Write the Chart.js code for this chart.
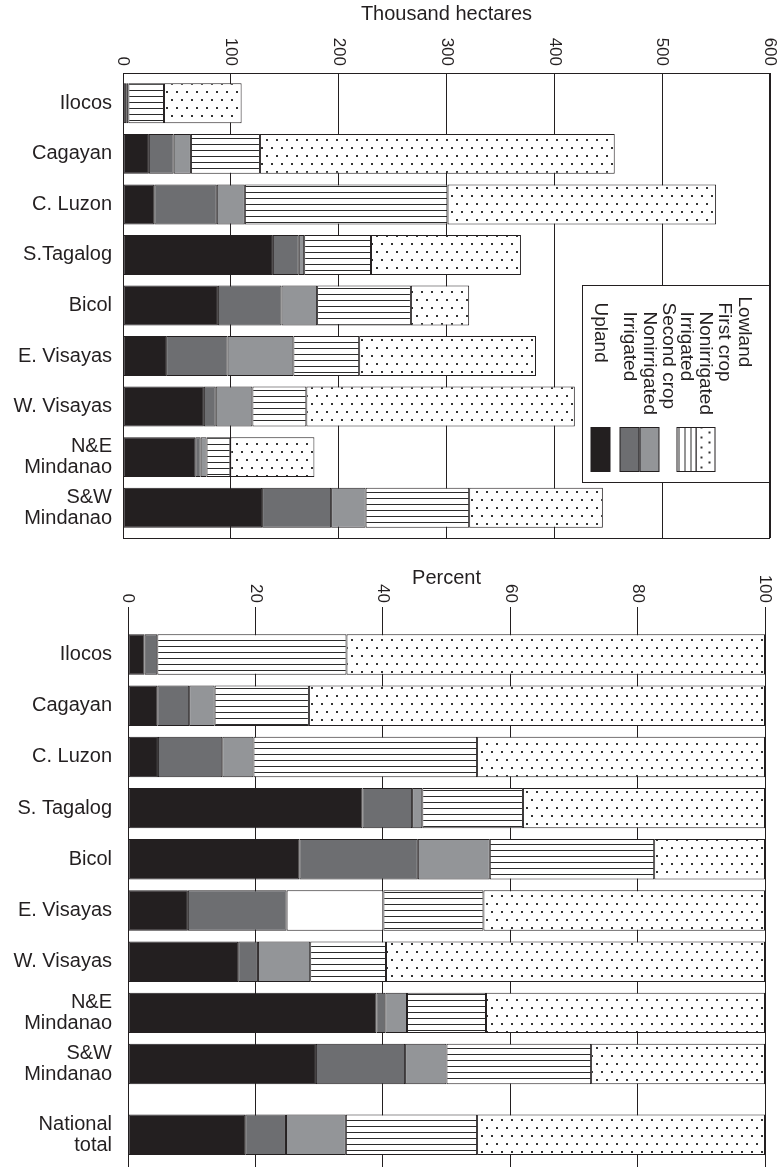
<!DOCTYPE html>
<html>
<head>
<meta charset="utf-8">
<script src="https://cdn.jsdelivr.net/npm/chart.js@4.4.0/dist/chart.umd.min.js"></script>
<style>
  html, body { margin: 0; padding: 0; background: #fff; }
  body { width: 778px; height: 1167px; position: relative; overflow: hidden; }
  .panel { position: absolute; left: 0; width: 778px; }
  #topPanel { top: 0; height: 548px; }
  #bottomPanel { top: 556px; height: 611px; }
</style>
</head>
<body>
<div class="panel" id="topPanel"><canvas id="areaChart"></canvas></div>
<div class="panel" id="bottomPanel"><canvas id="shareChart"></canvas></div>
<script>
// ---- data ----
const areaRegions = ['Ilocos', 'Cagayan', 'C. Luzon', 'S.Tagalog', 'Bicol', 'E. Visayas', 'W. Visayas', ['N&E', 'Mindanao'], ['S&W', 'Mindanao']];
const areaTicks = [0, 100, 200, 300, 400, 500, 600];
// thousand hectares
const areaUpland       = [3, 24, 29, 139, 88, 40, 75, 67, 129];
const areaSecondIrr    = [2, 23, 58, 24, 59, 57, 11, 5, 64];
const areaSecondNonirr = [0, 16, 26, 5, 33, 61, 34, 5.5, 32];
const areaFirstIrr     = [33, 64, 188, 62, 87, 61, 50, 22, 96];
const areaFirstNonirr  = [72, 329, 249, 139, 54, 164, 249, 78, 124];

const shareRegions = ['Ilocos', 'Cagayan', 'C. Luzon', 'S. Tagalog', 'Bicol', 'E. Visayas', 'W. Visayas', ['N&E', 'Mindanao'], ['S&W', 'Mindanao'], ['National', 'total']];
const shareTicks = [0, 20, 40, 60, 80, 100];
// percent
const shareUpland       = [2.6, 4.6, 4.7, 36.8, 26.9, 9.4, 17.3, 39.0, 29.5, 18.4];
const shareSecondIrr    = [2.0, 5.0, 10.1, 7.8, 18.6, 15.5, 3.1, 1.4, 14.0, 6.4];
const shareSecondNonirr = [0, 4.0, 4.9, 1.6, 11.3, 15.2, 8.2, 3.4, 6.5, 9.4];
const shareFirstIrr     = [29.7, 14.8, 35.1, 15.8, 25.8, 15.7, 11.9, 12.4, 22.7, 20.6];
const shareFirstNonirr  = [65.7, 71.6, 45.2, 38.0, 17.4, 44.2, 59.5, 43.8, 27.3, 45.2];

const legendLines = [
  { text: 'Lowland', level: 0 },
  { text: 'First crop', level: 1 },
  { text: 'Nonirrigated', level: 2, key: 'firstNonirr' },
  { text: 'Irrigated', level: 2, key: 'firstIrr' },
  { text: 'Second crop', level: 1 },
  { text: 'Nonirrigated', level: 2, key: 'secondNonirr' },
  { text: 'Irrigated', level: 2, key: 'secondIrr' },
  { text: 'Upland', level: 1, key: 'upland' },
];

// ---- styles ----
const FONT = '"Liberation Sans", Arial, Helvetica, sans-serif';
const INK = '#231f20';
Chart.defaults.font.family = FONT;
Chart.defaults.color = INK;

function makePattern(w, h, draw) {
  const c = document.createElement('canvas');
  c.width = w; c.height = h;
  const g = c.getContext('2d');
  g.fillStyle = '#fff';
  g.fillRect(0, 0, w, h);
  draw(g);
  return g.createPattern(c, 'repeat');
}
const stripes = makePattern(8, 6, g => { g.fillStyle = '#2b2b2b'; g.fillRect(0, 0, 8, 1); });
const dots = makePattern(10, 16, g => {
  g.fillStyle = '#333';
  g.fillRect(1, 3, 2, 2);
  g.fillRect(6, 11, 2, 2);
});

const fills = { upland: INK, secondIrr: '#6d6e71', secondNonirr: '#939598', firstIrr: stripes, firstNonirr: dots };

function dataset(label, values, key, rowPos, bg) {
  return {
    label, stack: 'all',
    data: values.map((v, i) => ({ x: v, y: rowPos(i) })),
    backgroundColor: bg || fills[key], borderColor: INK, borderWidth: 1, borderSkipped: false,
    barPercentage: 0.79, categoryPercentage: 1,
  };
}

// tick labels turned a quarter clockwise, ending just above the plot
const rotatedTicks = {
  id: 'rotatedTicks',
  afterDraw(chart, args, opts) {
    const { ctx, chartArea } = chart;
    const x = chart.scales.x;
    ctx.save();
    ctx.font = `${opts.size}px ${FONT}`;
    ctx.fillStyle = INK;
    ctx.textAlign = 'right';
    ctx.textBaseline = 'middle';
    x.ticks.forEach(t => {
      ctx.save();
      ctx.translate(x.getPixelForValue(t.value), chartArea.top - opts.gap);
      ctx.rotate(Math.PI / 2);
      ctx.fillText(String(t.value), 0, 0);
      ctx.restore();
    });
    ctx.restore();
  }
};

const frame = {
  id: 'frame',
  afterDraw(chart) {
    const { ctx, chartArea: a } = chart;
    ctx.save();
    ctx.strokeStyle = INK;
    ctx.lineWidth = 1;
    ctx.strokeRect(Math.round(a.left) + 0.5, Math.round(a.top) + 0.5, Math.round(a.right - a.left) - 1, Math.round(a.bottom - a.top));
    ctx.restore();
  }
};

// legend box, drawn in a frame turned a quarter clockwise like the rest of the figure
const sideLegend = {
  id: 'sideLegend',
  afterDraw(chart, args, opts) {
    const { ctx, chartArea } = chart;
    const boxLen = 197, boxDepth = 187;
    const rowV = [25, 45, 64, 83, 101, 120, 140, 169];
    const indent = [11, 17, 26];
    ctx.save();
    ctx.translate(Math.round(chartArea.right) - 0.5, opts.top + 0.5);
    ctx.rotate(Math.PI / 2);
    ctx.fillStyle = '#fff';
    ctx.fillRect(0, 0, boxLen, boxDepth);
    ctx.strokeStyle = INK;
    ctx.lineWidth = 1;
    ctx.strokeRect(0, 0, boxLen, boxDepth);
    ctx.font = `${opts.size}px ${FONT}`;
    ctx.textAlign = 'left';
    ctx.textBaseline = 'middle';
    legendLines.forEach((ln, i) => {
      ctx.fillStyle = INK;
      ctx.fillText(ln.text, indent[ln.level], rowV[i]);
      if (ln.key) {
        ctx.fillStyle = fills[ln.key];
        ctx.fillRect(142, rowV[i] - 9.5, 44, 19);
        ctx.strokeRect(142, rowV[i] - 9.5, 44, 19);
      }
    });
    ctx.restore();
  }
};

const areaRow = i => i + 1;
const NATIONAL_GAP = 0.38;
const shareRow = i => i + 1 + (i === shareRegions.length - 1 ? NATIONAL_GAP : 0);

function yAxis(labels, rowPos, min, max, width, pad) {
  return {
    type: 'linear', reverse: true, offset: false, min, max,
    afterBuildTicks: s => { s.ticks = labels.map((_, i) => ({ value: rowPos(i) })); },
    // fixed axis width, and no extra room kept for labels near the ends
    afterFit: s => { s.width = width; s.paddingTop = 0; s.paddingBottom = 0; },
    ticks: { autoSkip: false, callback: (v, i) => labels[i], font: { size: 20, lineHeight: 1.05 }, color: INK, padding: pad },
    grid: { display: false, drawTicks: false, offset: false },
    border: { display: true, color: INK, width: 1 },
  };
}

new Chart(document.getElementById('areaChart'), {
  type: 'bar',
  data: {
    datasets: [
      dataset('Upland', areaUpland, 'upland', areaRow),
      dataset('Second crop irrigated', areaSecondIrr, 'secondIrr', areaRow),
      dataset('Second crop nonirrigated', areaSecondNonirr, 'secondNonirr', areaRow),
      dataset('First crop irrigated', areaFirstIrr, 'firstIrr', areaRow),
      dataset('First crop nonirrigated', areaFirstNonirr, 'firstNonirr', areaRow),
    ]
  },
  options: {
    indexAxis: 'y', responsive: true, maintainAspectRatio: false, animation: false,
    layout: { padding: { top: 0, right: 8, bottom: 10, left: 0 } },
    plugins: {
      legend: { display: false }, tooltip: { enabled: false },
      rotatedTicks: { size: 17, gap: 7 },
      sideLegend: { top: 285, size: 19 },
    },
    scales: {
      x: {
        position: 'top', stacked: true, min: areaTicks[0], max: areaTicks[areaTicks.length - 1],
        afterBuildTicks: s => { s.ticks = areaTicks.map(v => ({ value: v })); },
        afterFit: s => { s.height = 73; s.paddingLeft = 0; s.paddingRight = 0; },
        ticks: { display: false },
        grid: { color: INK, lineWidth: 1, drawTicks: false },
        border: { display: true, color: INK },
        title: { display: true, text: 'Thousand hectares', font: { size: 20 }, color: INK, padding: { top: 2, bottom: 0 } },
      },
      y: yAxis(areaRegions, areaRow, 0.4, 9.6, 123, 11),
    }
  },
  plugins: [rotatedTicks, frame, sideLegend],
});

new Chart(document.getElementById('shareChart'), {
  type: 'bar',
  data: {
    datasets: [
      dataset('Upland', shareUpland, 'upland', shareRow),
      dataset('Second crop irrigated', shareSecondIrr, 'secondIrr', shareRow),
      dataset('Second crop nonirrigated', shareSecondNonirr, 'secondNonirr', shareRow,
        shareRegions.map(r => r === 'E. Visayas' ? '#fff' : fills.secondNonirr)),
      dataset('First crop irrigated', shareFirstIrr, 'firstIrr', shareRow),
      dataset('First crop nonirrigated', shareFirstNonirr, 'firstNonirr', shareRow),
    ]
  },
  options: {
    indexAxis: 'y', responsive: true, maintainAspectRatio: false, animation: false,
    layout: { padding: { top: 0, right: 13, bottom: 0, left: 0 } },
    plugins: {
      legend: { display: false }, tooltip: { enabled: false },
      rotatedTicks: { size: 17, gap: 4 },
    },
    scales: {
      x: {
        position: 'top', stacked: true, min: shareTicks[0], max: shareTicks[shareTicks.length - 1],
        afterBuildTicks: s => { s.ticks = shareTicks.map(v => ({ value: v })); },
        afterFit: s => { s.height = 51; s.paddingLeft = 0; s.paddingRight = 0; },
        ticks: { display: false },
        grid: { color: INK, lineWidth: 1, drawTicks: false },
        border: { display: false },
        title: { display: true, text: 'Percent', font: { size: 20 }, color: INK, padding: { top: 10, bottom: 0 } },
      },
      y: yAxis(shareRegions, shareRow, 0.072, 11.01, 128, 16),
    }
  },
  plugins: [rotatedTicks],
});
</script>
</body>
</html>
